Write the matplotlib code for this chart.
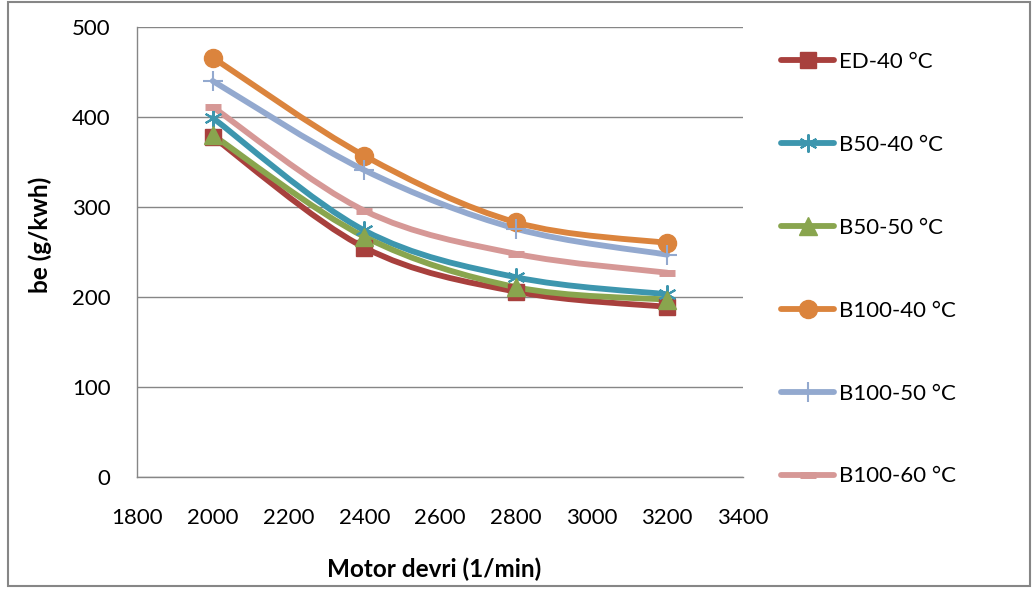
import matplotlib
matplotlib.use("Agg")
import matplotlib.pyplot as plt
from matplotlib.path import Path
from matplotlib.patches import PathPatch, Rectangle
from matplotlib.lines import Line2D

rpm = [2000, 2400, 2800, 3200]

ed_40 = [378, 255, 206, 189]
b50_40 = [399, 274, 222, 203]
b50_50 = [380, 267, 211, 197]
b100_40 = [466, 357, 283, 260]
b100_50 = [440, 341, 276, 247]
b100_60 = [411, 296, 248, 227]

labels = ["ED-40 °C", "B50-40 °C", "B50-50 °C", "B100-40 °C", "B100-50 °C", "B100-60 °C"]
series = [ed_40, b50_40, b50_50, b100_40, b100_50, b100_60]
colors = ["#A8403D", "#3D96AE", "#89A54E", "#DB843D", "#93A9CF", "#D69896"]
markers = ["s", (6, 2, 0), "^", "o", "+", "_"]
msizes = [12, 13, 13, 13, 15, 11]
mews = [1, 1.5, 1, 1, 1.5, 5]

plt.rcParams['font.family'] = ['Lato', 'DejaVu Sans']

fig = plt.figure(figsize=(10.36, 5.90), dpi=100)
ax = fig.add_axes([137 / 1036, 1 - 477 / 590, (743 - 137) / 1036, (477 - 27) / 590])

# outer chart border
fig.patches.append(Rectangle((8 / 1036, 1 - 586 / 590), 1022 / 1036, 584 / 590,
                             transform=fig.transFigure, fill=False,
                             edgecolor="#868686", linewidth=1.5))


def smooth_path(xs, ys):
    # excel style smoothed line as cubic bezier segments
    pts = list(zip(xs, ys))
    n = len(pts)
    verts = [pts[0]]
    codes = [Path.MOVETO]
    for i in range(n - 1):
        p0 = pts[i - 1] if i > 0 else pts[i]
        p1 = pts[i]
        p2 = pts[i + 1]
        p3 = pts[i + 2] if i + 2 < n else pts[i + 1]
        c1 = (p1[0] + (p2[0] - p0[0]) / 6, p1[1] + (p2[1] - p0[1]) / 6)
        c2 = (p2[0] - (p3[0] - p1[0]) / 6, p2[1] - (p3[1] - p1[1]) / 6)
        verts += [c1, c2, p2]
        codes += [Path.CURVE4] * 3
    return Path(verts, codes)


handles = []
for vals, lab, col, mk, ms, mew in zip(series, labels, colors, markers, msizes, mews):
    ax.add_patch(PathPatch(smooth_path(rpm, vals), facecolor="none", edgecolor=col,
                           linewidth=4.2, capstyle="round", joinstyle="round"))
    ax.plot(rpm, vals, linestyle="none", marker=mk, markersize=ms, color=col,
            markeredgecolor=col, markeredgewidth=mew)
    handles.append(Line2D([], [], color=col, linewidth=4.2, marker=mk, markersize=ms,
                          markeredgecolor=col, markeredgewidth=mew,
                          solid_capstyle="round"))

ax.set_xlim(1800, 3400)
ax.set_ylim(0, 500)
ax.set_xticks(range(1800, 3401, 200))
ax.set_yticks(range(0, 501, 100))
ax.yaxis.grid(True, color="#868686", linewidth=1.0)
ax.set_axisbelow(True)
for s in ["top", "right"]:
    ax.spines[s].set_visible(False)
for s in ["left", "bottom"]:
    ax.spines[s].set_color("#868686")
    ax.spines[s].set_linewidth(1.0)
ax.tick_params(axis="both", length=0, labelsize=16, colors="black")
ax.tick_params(axis="y", pad=19)
ax.tick_params(axis="x", pad=22)

fig.text(434 / 1036, 1 - 569 / 590, "Motor devri (1/min)", ha="center", va="center",
         fontsize=17.5, fontweight="bold")
fig.text(40 / 1036, 1 - 235 / 590, "be (g/kwh)", ha="center", va="center",
         rotation=90, fontsize=17.5, fontweight="bold")

fig.legend(handles, labels, loc="upper left", bbox_to_anchor=(781 / 1036, 1 - 52 / 590),
           frameon=False, fontsize=16, handlelength=2.4, handletextpad=0.2,
           labelspacing=2.83, borderaxespad=0, borderpad=0)

fig.savefig("out.png", dpi=100)
